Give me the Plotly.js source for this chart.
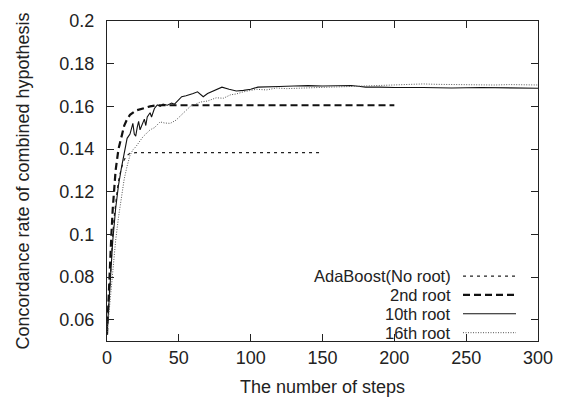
<!DOCTYPE html>
<html>
<head>
<meta charset="utf-8">
<script src="https://cdn.plot.ly/plotly-3.0.1.min.js"></script>
<style>html,body{margin:0;padding:0;background:#fff}#chart{width:564px;height:399px}</style>
</head>
<body>
<div id="chart"></div>
<script>
// ---- data ----
const seriesNames = ["AdaBoost(No root)", "2nd root", "10th root", "16th root"];

const adaX = [0, 1, 2, 3, 4, 5, 6, 7, 8, 9, 10, 12, 14, 16, 18, 20, 40, 60, 80, 100, 120, 150];
const adaY = [0.053, 0.066, 0.08, 0.091, 0.10, 0.108, 0.115, 0.120, 0.125, 0.128, 0.131, 0.135, 0.137, 0.138, 0.1383, 0.1383, 0.1383, 0.1383, 0.1383, 0.1383, 0.1383, 0.1383];

const r2X = [0, 1, 2, 3, 4, 5, 6, 8, 10, 12, 14, 16, 20, 25, 30, 35, 40, 60, 80, 100, 120, 140, 160, 180, 200];
const r2Y = [0.053, 0.07, 0.086, 0.099, 0.112, 0.122, 0.130, 0.140, 0.146, 0.151, 0.154, 0.156, 0.158, 0.159, 0.160, 0.1605, 0.1605, 0.1605, 0.1605, 0.1605, 0.1605, 0.1605, 0.1605, 0.1605, 0.1605];

const r10X = [0, 2, 4, 6, 8, 10, 12, 14, 16, 17, 18, 19, 20, 21, 22, 23, 24, 26, 27, 28, 30, 31, 33, 35, 37, 39, 42, 45, 47, 50, 52, 55, 58, 60, 63, 65, 67, 70, 75, 80, 85, 90, 95, 100, 105, 110, 120, 130, 140, 150, 160, 170, 175, 180, 190, 200, 220, 240, 260, 280, 300];
const r10Y = [0.053, 0.075, 0.097, 0.112, 0.123, 0.131, 0.138, 0.145, 0.147, 0.150, 0.152, 0.147, 0.146, 0.150, 0.153, 0.149, 0.151, 0.154, 0.151, 0.155, 0.157, 0.155, 0.159, 0.1607, 0.160, 0.161, 0.1605, 0.1615, 0.161, 0.163, 0.1645, 0.165, 0.1655, 0.166, 0.1668, 0.1655, 0.1645, 0.166, 0.1675, 0.169, 0.168, 0.1672, 0.1675, 0.168, 0.169, 0.169, 0.1693, 0.1695, 0.1697, 0.1695, 0.1696, 0.1698, 0.1694, 0.169, 0.169, 0.1688, 0.1688, 0.1686, 0.1688, 0.1686, 0.1685];

const r16X = [0, 2, 4, 6, 8, 10, 12, 14, 16, 18, 20, 25, 30, 33, 37, 40, 44, 48, 53, 58, 65, 70, 76, 81, 86, 90, 95, 104, 111, 118, 125, 134, 145, 155, 165, 175, 185, 195, 210, 220, 230, 240, 250, 260, 270, 280, 290, 300];
const r16Y = [0.053, 0.068, 0.085, 0.097, 0.108, 0.118, 0.126, 0.132, 0.137, 0.1396, 0.141, 0.1457, 0.149, 0.150, 0.1527, 0.1522, 0.152, 0.1535, 0.157, 0.160, 0.162, 0.1625, 0.164, 0.1638, 0.1654, 0.1658, 0.1668, 0.168, 0.1677, 0.1686, 0.1683, 0.1686, 0.1688, 0.169, 0.1692, 0.1695, 0.1698, 0.170, 0.1702, 0.1705, 0.1703, 0.1702, 0.1700, 0.1702, 0.1700, 0.1702, 0.1700, 0.1700];

const xTicks = [0, 50, 100, 150, 200, 250, 300];
const yTicks = [0.06, 0.08, 0.1, 0.12, 0.14, 0.16, 0.18, 0.2];
const yTickText = ["0.06", "0.08", "0.1", "0.12", "0.14", "0.16", "0.18", "0.2"];

// ---- styles ----
const styles = [
  {color: '#222', width: 1.2, dash: '3px,4px'},
  {color: '#111', width: 2.2, dash: '7px,4px'},
  {color: '#111', width: 1.1, dash: 'solid'},
  {color: '#555', width: 1, dash: '1px,1.5px'}
];
const xs = [adaX, r2X, r10X, r16X];
const ys = [adaY, r2Y, r10Y, r16Y];

const traces = seriesNames.map((n, i) => ({
  x: xs[i], y: ys[i], name: n, type: 'scatter', mode: 'lines',
  line: {color: styles[i].color, width: styles[i].width, dash: styles[i].dash},
  showlegend: false, hoverinfo: 'skip'
}));

const font = {family: 'Liberation Sans, Arial, sans-serif', size: 18, color: '#222'};
const legFont = {family: 'Liberation Sans, Arial, sans-serif', size: 16.5, color: '#222'};

// manual legend (text right, sample line on the right like the reference)
const legRows = [0.203, 0.144, 0.085, 0.026];
const annotations = seriesNames.map((n, i) => ({
  xref: 'paper', yref: 'paper', x: 0.80, y: legRows[i], xanchor: 'right', yanchor: 'middle',
  text: n, showarrow: false, font: legFont, borderpad: 0
}));
const shapes = seriesNames.map((n, i) => ({
  type: 'line', xref: 'paper', yref: 'paper', x0: 0.826, x1: 0.949, y0: legRows[i], y1: legRows[i],
  line: {color: styles[i].color, width: styles[i].width, dash: styles[i].dash}
}));

const layout = {
  width: 564, height: 399,
  margin: {l: 107, r: 26, t: 21, b: 58},
  paper_bgcolor: '#fff', plot_bgcolor: '#fff',
  font: font,
  showlegend: false,
  xaxis: {
    range: [0, 300], tickvals: xTicks, ticktext: xTicks.map(String),
    ticks: 'inside', ticklen: 7, tickcolor: '#222', tickwidth: 1,
    showline: true, linecolor: '#222', linewidth: 1, mirror: 'ticks',
    showgrid: false, zeroline: false,
    title: {text: 'The number of steps', font: font, standoff: 13},
    tickfont: font
  },
  yaxis: {
    range: [0.05, 0.2], tickvals: yTicks, ticktext: yTickText,
    ticks: 'inside', ticklen: 7, tickcolor: '#222', tickwidth: 1,
    showline: true, linecolor: '#222', linewidth: 1, mirror: 'ticks',
    showgrid: false, zeroline: false,
    ticklabelstandoff: 8,
    title: {text: 'Concordance rate of combined hypothesis', font: font, standoff: 25},
    tickfont: font
  },
  annotations: annotations,
  shapes: shapes
};

Plotly.newPlot('chart', traces, layout, {staticPlot: true, displayModeBar: false});
</script>
</body>
</html>
